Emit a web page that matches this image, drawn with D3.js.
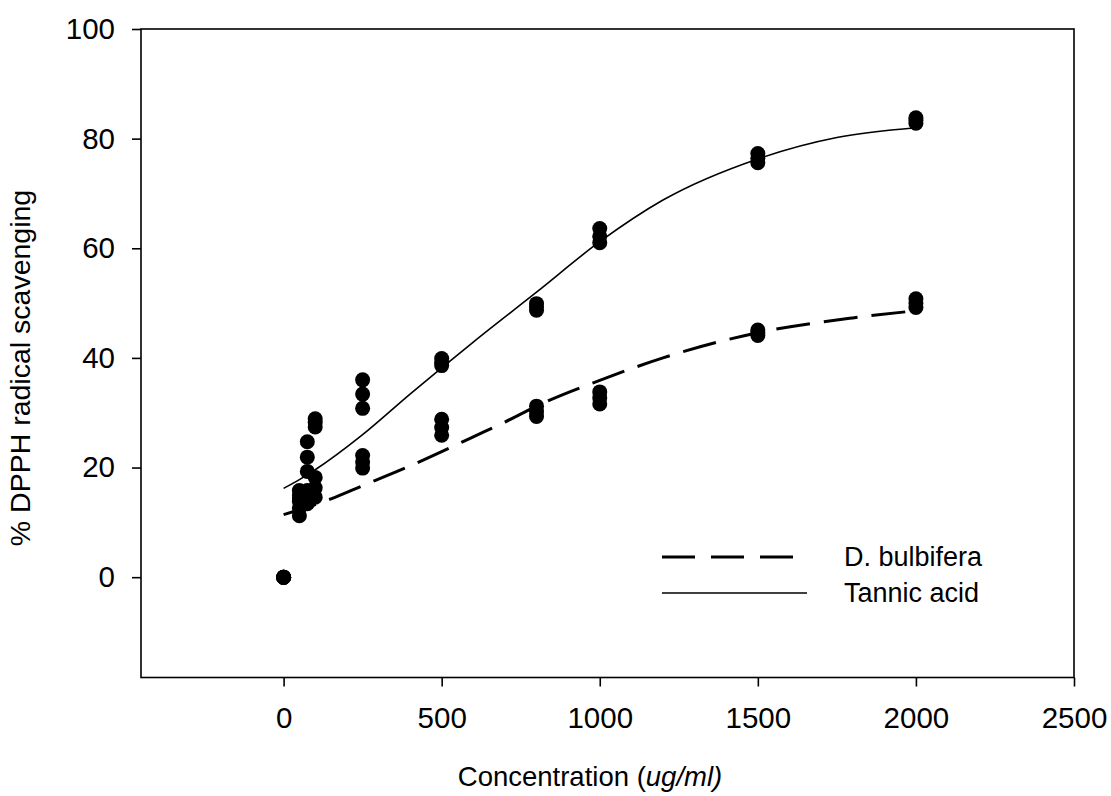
<!DOCTYPE html>
<html>
<head>
<meta charset="utf-8">
<script src="https://cdn.jsdelivr.net/npm/d3@7"></script>
<style>
  body { margin: 0; background: #fff; }
  text { font-family: Arial, "Liberation Sans", sans-serif; fill: #000; }
</style>
</head>
<body>
<div id="chart"></div>
<script>
// DPPH scavenging chart

// Concentrations (ug/ml) of the measured points
const concentrations = [0, 50, 75, 100, 250, 500, 800, 1000, 1500, 2000];

// Replicate values, one inner list per concentration
const tannicPoints = [
  [0, 0, 0], [15.8, 15.0, 14.3], [24.7, 21.9, 19.3], [28.9, 28.2, 27.4],
  [36.0, 33.4, 30.8], [39.9, 39.2, 38.6], [49.9, 49.3, 48.7],
  [63.6, 62.2, 61.0], [77.3, 76.4, 75.6], [83.8, 83.3, 82.8]
];
const bulbiferaPoints = [
  [0, 0, 0], [13.8, 12.6, 11.2], [15.8, 14.6, 13.4], [18.2, 16.3, 14.6],
  [22.2, 21.0, 19.9], [28.8, 27.3, 25.9], [31.2, 30.2, 29.3],
  [33.8, 32.7, 31.6], [45.1, 44.6, 44.1], [50.8, 50.0, 49.2]
];

// Fitted curves
const tannicCurveX = [0, 50, 100, 250, 400, 500, 600, 800, 1000, 1200, 1500, 1750, 2000];
const tannicCurveY = [16.2, 17.8, 19.6, 26.0, 33.4, 38.2, 42.9, 52.0, 61.2, 68.8, 76.3, 80.2, 82.0];
const bulbiferaCurveX = [0, 150, 250, 400, 500, 600, 700, 800, 1000, 1200, 1500, 1800, 2000];
const bulbiferaCurveY = [11.4, 14.3, 16.7, 20.3, 22.9, 25.6, 28.3, 31.2, 35.9, 40.0, 44.6, 47.3, 48.6];

// Axis ticks and labels
const xTicks = [0, 500, 1000, 1500, 2000, 2500];
const yTicks = [0, 20, 40, 60, 80, 100];
const legendLabels = ['D. bulbifera', 'Tannic acid'];

const width = 1111, height = 796;
const plot = { left: 141, right: 1074, top: 29, bottom: 677.5 };

const svg = d3.select('#chart').append('svg')
  .attr('width', width)
  .attr('height', height);

const x = d3.scaleLinear().domain([-451, 2500]).range([plot.left, plot.right]);
const y = d3.scaleLinear().domain([-18.3, 100]).range([plot.bottom, plot.top]);

// Frame
svg.append('rect')
  .attr('x', plot.left).attr('y', plot.top)
  .attr('width', plot.right - plot.left).attr('height', plot.bottom - plot.top)
  .attr('fill', 'none').attr('stroke', '#000').attr('stroke-width', 1.6);

// Axes
const xAxis = svg.append('g')
  .attr('transform', `translate(0,${plot.bottom})`)
  .call(d3.axisBottom(x).tickValues(xTicks).tickSize(9).tickPadding(21).tickFormat(d3.format('d')));
const yAxis = svg.append('g')
  .attr('transform', `translate(${plot.left},0)`)
  .call(d3.axisLeft(y).tickValues(yTicks).tickSize(9).tickPadding(17).tickFormat(d3.format('d')));

[xAxis, yAxis].forEach(g => {
  g.select('.domain').remove();
  g.selectAll('line').attr('stroke', '#000').attr('stroke-width', 1.6);
  g.selectAll('text').attr('font-size', 29.5).attr('font-family', 'Arial, "Liberation Sans", sans-serif');
});

// Axis titles
const xTitle = svg.append('text')
  .attr('x', 590).attr('y', 786)
  .attr('text-anchor', 'middle').attr('font-size', 27.5);
xTitle.append('tspan').text('Concentration (');
xTitle.append('tspan').attr('font-style', 'italic').text('ug/ml)');

svg.append('text')
  .attr('transform', 'translate(30,368) rotate(-90)')
  .attr('text-anchor', 'middle').attr('font-size', 28.5)
  .text('% DPPH radical scavenging');

// Curves
const line = d3.line().x(d => x(d[0])).y(d => y(d[1])).curve(d3.curveMonotoneX);

svg.append('path')
  .datum(bulbiferaCurveX.map((c, i) => [c, bulbiferaCurveY[i]]))
  .attr('d', line)
  .attr('fill', 'none').attr('stroke', '#000').attr('stroke-width', 3)
  .attr('stroke-dasharray', '34,14');

svg.append('path')
  .datum(tannicCurveX.map((c, i) => [c, tannicCurveY[i]]))
  .attr('d', line)
  .attr('fill', 'none').attr('stroke', '#000').attr('stroke-width', 1.6);

// Points
const flatten = pts => concentrations.flatMap((c, i) => pts[i].map(v => ({ c, v })));
svg.selectAll('.dot')
  .data(flatten(tannicPoints).concat(flatten(bulbiferaPoints)))
  .enter().append('circle')
    .attr('class', 'dot')
    .attr('r', 7.5)
    .attr('cx', d => x(d.c))
    .attr('cy', d => y(d.v))
    .attr('fill', '#000');

// Legend
const legend = svg.append('g');
legend.append('line')
  .attr('x1', 662).attr('x2', 793).attr('y1', 557).attr('y2', 557)
  .attr('stroke', '#000').attr('stroke-width', 3).attr('stroke-dasharray', '33,16');
legend.append('line')
  .attr('x1', 662).attr('x2', 807).attr('y1', 593).attr('y2', 593)
  .attr('stroke', '#000').attr('stroke-width', 1.6);
legend.selectAll('.legend-label')
  .data(legendLabels)
  .enter().append('text')
    .attr('class', 'legend-label')
    .attr('x', 844)
    .attr('y', (d, i) => 566 + i * 36)
    .attr('font-size', 27)
    .text(d => d);
</script>
</body>
</html>
